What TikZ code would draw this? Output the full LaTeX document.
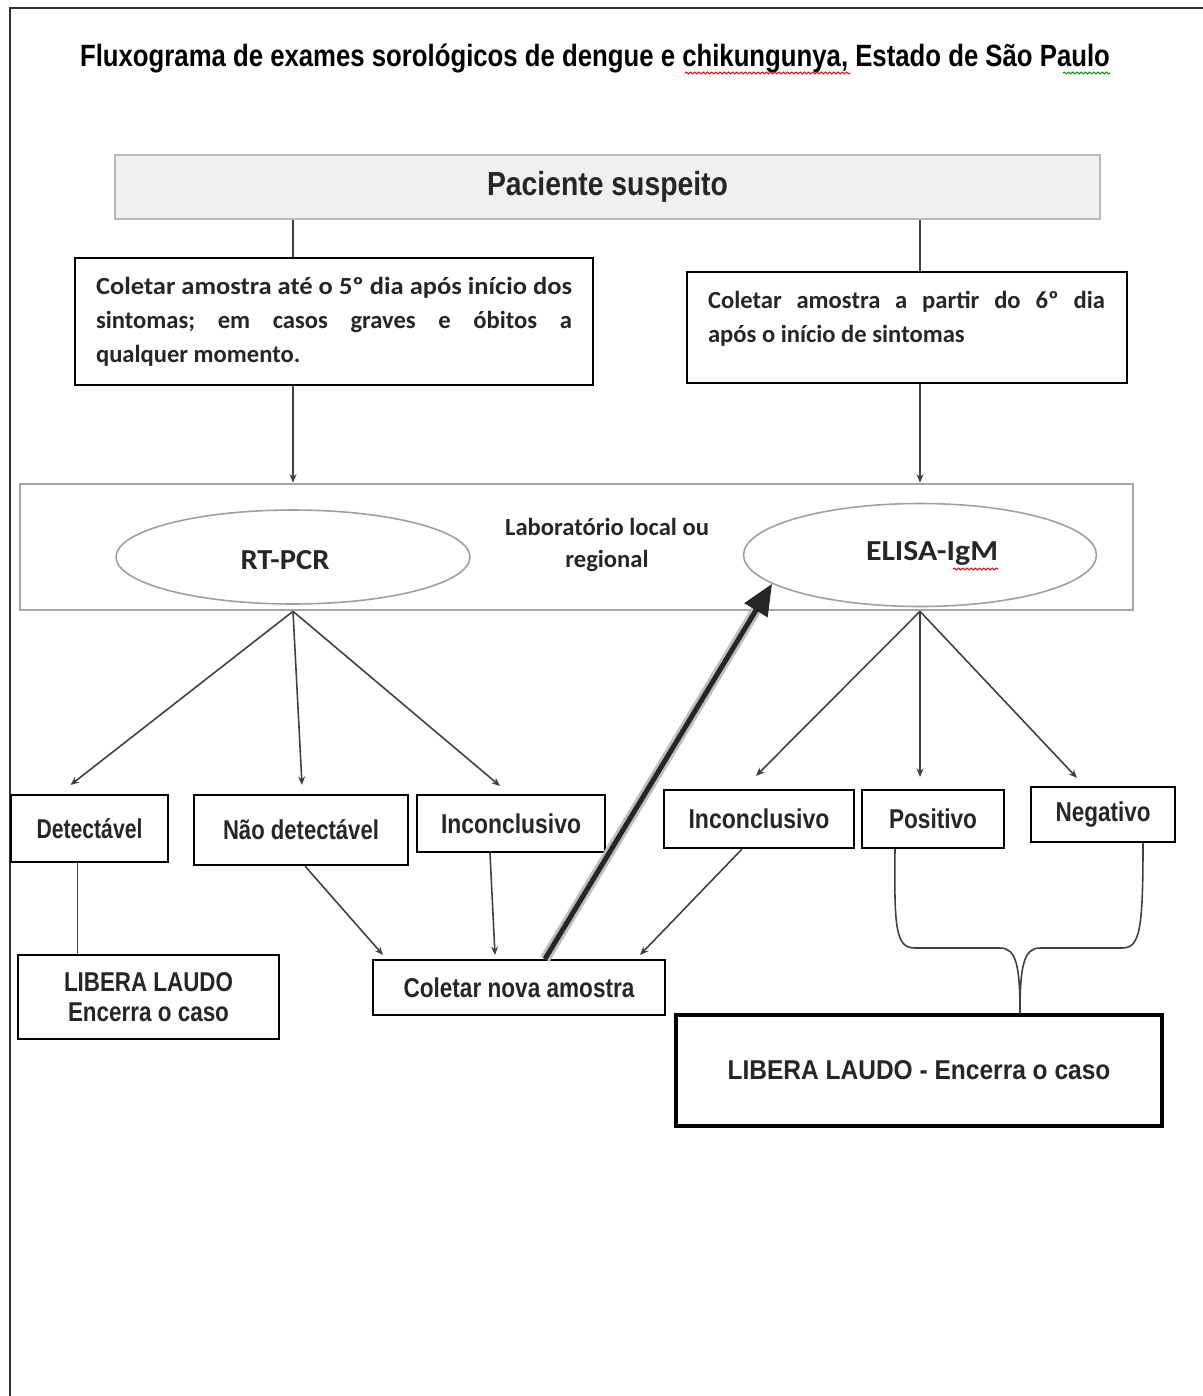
\documentclass[tikz,border=0pt]{standalone}
\usepackage{fontspec}
\usepackage{graphicx}
\usetikzlibrary{calc,arrows.meta,shapes.geometric,decorations.pathmorphing}
\setmainfont{Liberation Sans}
\newfontfamily\calfont{Carlito}
\frenchspacing
\newcommand\fitw[2]{\resizebox{#1}{\height}{#2}}
\newcommand\lbl[2]{\fitw{#1}{\fontsize{15.5}{18}\selectfont\bfseries #2}}
\newcommand\bxnode[7][]{\node[box,minimum width={(#5-#3)*0.02cm},minimum height={(#6-#4)*0.02cm},#1] (#2) at ({(#3+#5)/2},{(#4+#6)/2}) {#7};}
\begin{document}
\begin{tikzpicture}[x=0.02cm,y=-0.02cm,
  box/.style={draw=black,line width=1.2pt,inner sep=0pt,fill=white,text=black!85},
  ell/.style={ellipse,draw=gray!75,line width=0.9pt,inner sep=0pt,fill=white},
  conn/.style={draw=black!75,line width=0.9pt},
  arr/.style={conn,-{Stealth[length=0.17cm,width=0.14cm]}},
  squig/.style={decorate,decoration={snake,amplitude=0.5pt,segment length=2.4pt},line width=0.6pt},
  frame/.style={draw=black!80,line width=1.5pt}]
\useasboundingbox (0,0) rectangle (1203,1396);
\draw[frame] (1203,8) -- (10,8) -- (10,1396);

% title
\node[inner sep=0pt] (title) at (595,58) {\fitw{20.6cm}{\fontsize{17.5}{20}\selectfont\bfseries Fluxograma de exames sorológicos de dengue e chikungunya, Estado de São Paulo}};
\draw[squig,red] (685,73) -- (850,73);
\draw[squig,green!60!black] (1063,73) -- (1110,73);

% top
\bxnode[fill=gray!12,draw=gray!55,line width=1pt]{pac}{115}{155}{1100}{219}{\fitw{4.82cm}{\fontsize{19}{22}\selectfont\bfseries Paciente suspeito}}

\bxnode[line width=1.6pt]{c1}{75}{258}{593}{385}{\parbox{9.52cm}{\calfont\bfseries\fontsize{14}{19.3}\selectfont \fitw{9.52cm}{Coletar amostra até o 5º dia após início dos}\\ sintomas; em casos graves e óbitos a\linebreak qualquer momento.}}
\bxnode[line width=1.6pt]{c2}{687}{272}{1127}{383}{}
\node[inner sep=0pt,text=black!85] (c2t) at (906.5,318.5) {\parbox{7.94cm}{\calfont\bfseries\fontsize{14}{19.3}\selectfont Coletar amostra a partir do 6º dia\linebreak após o início de sintomas}};

% lab
\bxnode[draw=gray!70,line width=1.5pt]{lab}{20}{484}{1133}{610}{}
\node[ell,minimum width=7.08cm,minimum height=1.88cm] (rt) at (293,557) {};
\node[inner sep=0pt,text=black!85] (rtt) at (285,560) {\fitw{1.78cm}{\calfont\bfseries\fontsize{16.5}{19}\selectfont RT-PCR}};
\node[ell,minimum width=7.06cm,minimum height=2.06cm] (el) at (920,555) {};
\node[inner sep=0pt,text=black!85] (elt) at (932,553) {\fitw{2.64cm}{\calfont\bfseries\fontsize{16.5}{19}\selectfont ELISA-IgM}};
\draw[squig,red] (953,569) -- (998,569);
\node[align=center,inner sep=0pt,text=black!85,font={\calfont\bfseries\fontsize{14}{18}\selectfont}] (labt) at (607,545) {Laboratório local ou\\regional};

% result boxes
\bxnode{det}{11}{795}{168}{862}{\lbl{2.12cm}{Detectável}}
\bxnode{nd}{194}{795}{408}{865}{\lbl{3.12cm}{Não detectável}}
\bxnode{incl}{417}{795}{605}{852}{\lbl{2.8cm}{Inconclusivo}}
\bxnode{incr}{664}{790}{854}{848}{\lbl{2.82cm}{Inconclusivo}}
\bxnode{pos}{862}{790}{1004}{848}{\lbl{1.76cm}{Positivo}}
\bxnode{neg}{1031}{787}{1175}{842}{\lbl{1.9cm}{Negativo}}

\bxnode[align=center,font={\fontsize{15}{17}\selectfont}]{lb1}{18}{955}{279}{1039}{\lbl{3.38cm}{LIBERA LAUDO}\\\lbl{3.22cm}{Encerra o caso}}
\bxnode{col}{373}{960}{665}{1015}{\lbl{4.62cm}{Coletar nova amostra}}
\bxnode[line width=2.2pt]{lb2}{676}{1015}{1162}{1126}{\lbl{7.66cm}{LIBERA LAUDO - Encerra o caso}}

% connectors top
\draw[conn] (rt |- pac.south) -- (rt |- c1.north);
\draw[conn] (el |- pac.south) -- (el |- c2.north);
\draw[arr] (rt |- c1.south) -- (rt |- lab.north);
\draw[arr] (el |- c2.south) -- (el |- lab.north);

% from RT-PCR
\coordinate (rto) at (rt |- lab.south);
\draw[arr] (rto) -- ($(det.north)+(-19,-9)$);
\draw[arr] (rto) -- ($(nd.north)+(1,-9)$);
\draw[arr] (rto) -- ($(incl.north)+(-11,-8)$);

% from ELISA
\coordinate (elo) at (el |- lab.south);
\draw[arr] (elo) -- ($(incr.north)+(-3,-13)$);
\draw[arr] (elo) -- ($(pos.north)+(-13,-12)$);
\draw[arr] (elo) -- ($(neg.north)+(-26,-8)$);

% lower connectors
\coordinate (d1) at ($(det.south)+(-12,0)$);
\draw[conn] (d1) -- (d1 |- lb1.north);
\draw[arr] ($(nd.south)+(4,0)$) -- ($(col.north)+(-136,-4)$);
\draw[arr] ($(incl.south)+(-21,0)$) -- ($(col.north)+(-24,-4)$);
\draw[arr] ($(incr.south)+(-17,0)$) -- ($(col.north)+(121,-4)$);

% thick arrow
\coordinate (ts) at ($(col.north)+(26,0)$);
\draw[line width=6pt,gray!50,shorten >=0.5cm] (ts) -- (el.191);
\draw[line width=2.8pt,black!85,-{Triangle[length=0.62cm,width=0.52cm]}] (ts) -- (el.191);

% brace to final box
\coordinate (bj) at ($(lb2.north)+(101,0)$);
\draw[conn] ($(pos.south)+(-38,0)$) .. controls (894,930) and (896,948) .. (915,948) -- (1000,948) .. controls (1016,948) and (1020,965) .. (bj);
\draw[conn] ($(neg.south)+(40,0)$) .. controls (1143,930) and (1140,948) .. (1122,948) -- (1040,948) .. controls (1024,948) and (1020,965) .. (bj);
\end{tikzpicture}
\end{document}
